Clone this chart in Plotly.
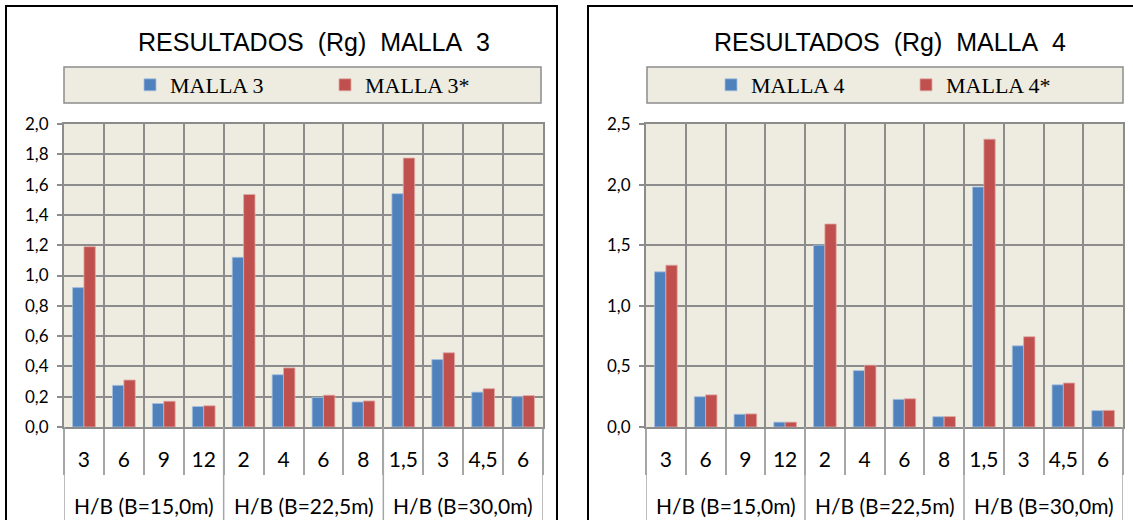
import plotly.graph_objects as go

# H/B ratios, grouped by foundation width B
groups = ["H/B (B=15,0m)", "H/B (B=22,5m)", "H/B (B=30,0m)"]
group_sizes = [4, 4, 4]
hb_labels = ["3", "6", "9", "12", "2", "4", "6", "8", "1,5", "3", "4,5", "6"]

# Rg results
malla3 = [0.92, 0.275, 0.155, 0.135, 1.12, 0.345, 0.195, 0.165, 1.54, 0.445, 0.23, 0.20]
malla3_star = [1.19, 0.31, 0.17, 0.14, 1.535, 0.39, 0.21, 0.172, 1.775, 0.49, 0.253, 0.207]
malla4 = [1.28, 0.25, 0.105, 0.04, 1.50, 0.465, 0.228, 0.085, 1.98, 0.67, 0.348, 0.135]
malla4_star = [1.335, 0.265, 0.108, 0.04, 1.675, 0.51, 0.233, 0.086, 2.375, 0.745, 0.363, 0.137]

W, H = 1133, 520
BLUE, RED = "#4F81BD", "#C0504D"
PANEL_BG = "#EEECE1"
GRID = "#8C8C8C"
TICK = "#A6A6A6"


def px_x(v):
    return v / W


def px_y(v):
    return 1 - v / H


# category slots along the x axis, and the boundaries between them
slots = list(range(len(hb_labels)))
boundaries = [s - 0.5 for s in slots] + [slots[-1] + 0.5]
group_edges = [-0.5]
for n in group_sizes:
    group_edges.append(group_edges[-1] + n)
group_centers = [(a + b) / 2 for a, b in zip(group_edges[:-1], group_edges[1:])]

fig = go.Figure()
series = [
    (malla3, "MALLA 3", BLUE, "#A7C0DE", "x", "y", "legend"),
    (malla3_star, "MALLA 3*", RED, "#E0A8A6", "x", "y", "legend"),
    (malla4, "MALLA 4", BLUE, "#A7C0DE", "x2", "y2", "legend2"),
    (malla4_star, "MALLA 4*", RED, "#E0A8A6", "x2", "y2", "legend2"),
]
for vals, name, col, edge, xa, ya, lg in series:
    fig.add_trace(go.Bar(x=slots, y=vals, name=name,
                         marker=dict(color=col, line=dict(color=edge, width=0.8)),
                         xaxis=xa, yaxis=ya, legend=lg))

plot_top, plot_bottom = 124, 427
left_dom = [px_x(64), px_x(543)]
right_dom = [px_x(646), px_x(1123)]
y_dom = [px_y(plot_bottom), px_y(plot_top)]

xaxis_common = dict(
    type="linear", range=[boundaries[0], boundaries[-1]],
    tickmode="array", tickvals=slots, ticktext=hb_labels,
    ticks="", showgrid=False, ticklabelstandoff=13,
    minor=dict(tickmode="array", tickvals=boundaries, ticks="outside", ticklen=46,
               tickcolor=TICK, tickwidth=1.5, showgrid=True, gridcolor=GRID, gridwidth=1.6),
    showline=True, linecolor=GRID, linewidth=2, mirror=True, zeroline=False,
    tickfont=dict(family="Lato", size=21, color="#000"),
    automargin=False, fixedrange=True,
)
yaxis_common = dict(
    showgrid=True, gridcolor=GRID, gridwidth=1.6,
    ticks="outside", ticklen=5, tickcolor=GRID, tickwidth=1.5,
    showline=True, linecolor=GRID, linewidth=2, mirror=True,
    tickformat=".1f", zeroline=False, ticklabelstandoff=5,
    tickfont=dict(family="Lato", size=17, color="#000"),
    automargin=False, fixedrange=True,
)

legend_common = dict(
    orientation="h", bgcolor="rgba(0,0,0,0)", borderwidth=0,
    font=dict(family="Liberation Serif", size=22, color="#000"),
    xanchor="left", yanchor="middle",
    entrywidth=150, entrywidthmode="pixels",
    itemclick=False, itemdoubleclick=False,
)

fig.update_layout(
    width=W, height=H,
    margin=dict(l=0, r=0, t=0, b=0),
    template="none",
    paper_bgcolor="white",
    plot_bgcolor=PANEL_BG,
    separators=",.",
    barmode="group", bargap=0.43, bargroupgap=0,
    xaxis=dict(domain=left_dom, anchor="y", **xaxis_common),
    yaxis=dict(domain=y_dom, anchor="x", range=[0, 2.0], dtick=0.2, **yaxis_common),
    xaxis2=dict(domain=right_dom, anchor="y2", **xaxis_common),
    yaxis2=dict(domain=y_dom, anchor="x2", range=[0, 2.5], dtick=0.5, **yaxis_common),
    legend=dict(x=px_x(130), y=px_y(85), **legend_common),
    legend2=dict(x=px_x(711), y=px_y(85), **legend_common),
    showlegend=True,
)

# chart titles
for cx, label in [(314, "RESULTADOS\u00a0\u00a0(Rg)\u00a0\u00a0MALLA\u00a0\u00a03"),
                  (890, "RESULTADOS\u00a0\u00a0(Rg)\u00a0\u00a0MALLA\u00a0\u00a04")]:
    fig.add_annotation(x=px_x(cx), y=px_y(42), xref="paper", yref="paper",
                       text=label, showarrow=False, xanchor="center", yanchor="middle",
                       font=dict(family="Liberation Sans", size=25, color="#000"))

# group labels under the H/B values
for xref in ["x", "x2"]:
    for gc, gname in zip(group_centers, groups):
        fig.add_annotation(x=gc, y=px_y(505), xref=xref, yref="paper",
                           text=gname, showarrow=False, xanchor="center", yanchor="middle",
                           font=dict(family="Lato", size=21, color="#000"))

shapes = []
# group dividers running down through both label rows
for xref in ["x", "x2"]:
    for ge in group_edges:
        shapes.append(dict(type="line", xref=xref, yref="paper", x0=ge, x1=ge,
                           y0=px_y(plot_bottom), y1=-0.1, line=dict(color=TICK, width=1.5)))
# legend boxes
for x0, x1 in [(64, 541), (647, 1123)]:
    shapes.append(dict(type="rect", xref="paper", yref="paper",
                       x0=px_x(x0), x1=px_x(x1), y0=px_y(103), y1=px_y(67),
                       fillcolor=PANEL_BG, line=dict(color="#8C8C8C", width=1.5), layer="below"))
# chart frames
for x0, x1 in [(6, 557), (588, 1150)]:
    shapes.append(dict(type="rect", xref="paper", yref="paper",
                       x0=px_x(x0), x1=px_x(x1), y0=-0.1, y1=px_y(6),
                       fillcolor="rgba(0,0,0,0)", line=dict(color="#000", width=2), layer="above"))
fig.update_layout(shapes=shapes)

fig.write_html("out.html")
